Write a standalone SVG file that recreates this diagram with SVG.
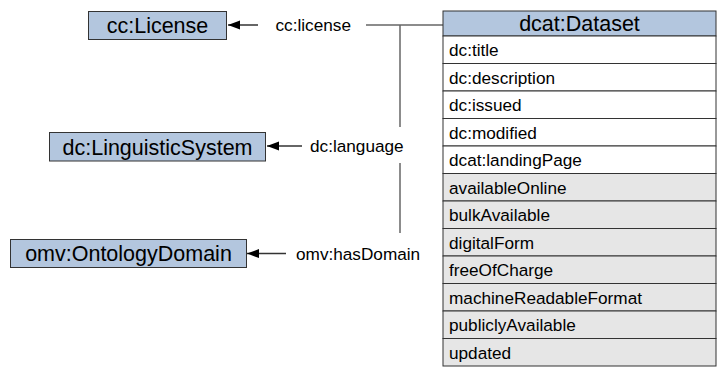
<svg xmlns="http://www.w3.org/2000/svg" width="717" height="372" viewBox="0 0 717 372">
<style>
.cls{fill:#b3c6de;stroke:#333;stroke-width:1}
.row{fill:#fff;stroke:#333;stroke-width:1}
.rowg{fill:#e6e6e6;stroke:#333;stroke-width:1}
.big{font-family:"Liberation Sans",Arial,sans-serif;font-size:21.5px;fill:#000;text-anchor:middle}
.t{font-family:"Liberation Sans",Arial,sans-serif;font-size:17.2px;fill:#000}
.conn{stroke:#666;stroke-width:1.5;fill:none}
.arr{stroke:#333;stroke-width:1.5;fill:none;marker-end:url(#ah)}
</style>
<defs>
<marker id="ah" markerUnits="userSpaceOnUse" markerWidth="14" markerHeight="10" refX="12" refY="5" orient="auto">
<path d="M0,0.5 L12,5 L0,9.5 Z" fill="#000"/>
</marker>
</defs>
<rect width="717" height="372" fill="#fff"/>
<g id="connectors">
<line class="conn" x1="366" y1="25" x2="443" y2="25"/>
<line class="conn" x1="400" y1="25" x2="400" y2="127"/>
<line class="conn" x1="400" y1="163" x2="400" y2="233"/>
<line class="arr" x1="258" y1="25" x2="228" y2="25"/>
<line class="arr" x1="302" y1="146" x2="267" y2="146"/>
<line class="arr" x1="286" y1="253.5" x2="247" y2="253.5"/>
<text class="t" x="275.5" y="31">cc:license</text>
<text class="t" x="310" y="152">dc:language</text>
<text class="t" x="296" y="259.5">omv:hasDomain</text>
</g>
<g id="cc-license">
<rect class="cls" x="88.5" y="11.5" width="138" height="28"/>
<text class="big" x="157.5" y="33">cc:License</text>
</g>
<g id="dc-linguisticsystem">
<rect class="cls" x="49.5" y="132.5" width="216" height="28.5"/>
<text class="big" x="157.5" y="154.5">dc:LinguisticSystem</text>
</g>
<g id="omv-ontologydomain">
<rect class="cls" x="10.5" y="239.5" width="236" height="28"/>
<text class="big" x="128.5" y="261">omv:OntologyDomain</text>
</g>
<g id="dcat-dataset">
<rect class="cls" x="443" y="11" width="273" height="25"/>
<text class="big" x="579.5" y="31">dcat:Dataset</text>
<rect class="row" x="443" y="36" width="273" height="27.5"/>
<rect class="row" x="443" y="63.5" width="273" height="27.5"/>
<rect class="row" x="443" y="91" width="273" height="27.5"/>
<rect class="row" x="443" y="118.5" width="273" height="27.5"/>
<rect class="row" x="443" y="146" width="273" height="27.5"/>
<rect class="rowg" x="443" y="173.5" width="273" height="27.5"/>
<rect class="rowg" x="443" y="201" width="273" height="27.5"/>
<rect class="rowg" x="443" y="228.5" width="273" height="27.5"/>
<rect class="rowg" x="443" y="256" width="273" height="27.5"/>
<rect class="rowg" x="443" y="283.5" width="273" height="27.5"/>
<rect class="rowg" x="443" y="311" width="273" height="27.5"/>
<rect class="rowg" x="443" y="338.5" width="273" height="27.5"/>
<text class="t" x="449" y="56">dc:title</text>
<text class="t" x="449" y="83.5">dc:description</text>
<text class="t" x="449" y="111">dc:issued</text>
<text class="t" x="449" y="138.5">dc:modified</text>
<text class="t" x="449" y="166">dcat:landingPage</text>
<text class="t" x="449" y="193.5">availableOnline</text>
<text class="t" x="449" y="221">bulkAvailable</text>
<text class="t" x="449" y="248.5">digitalForm</text>
<text class="t" x="449" y="276">freeOfCharge</text>
<text class="t" x="449" y="303.5">machineReadableFormat</text>
<text class="t" x="449" y="331">publiclyAvailable</text>
<text class="t" x="449" y="358.5">updated</text>
</g>
</svg>
